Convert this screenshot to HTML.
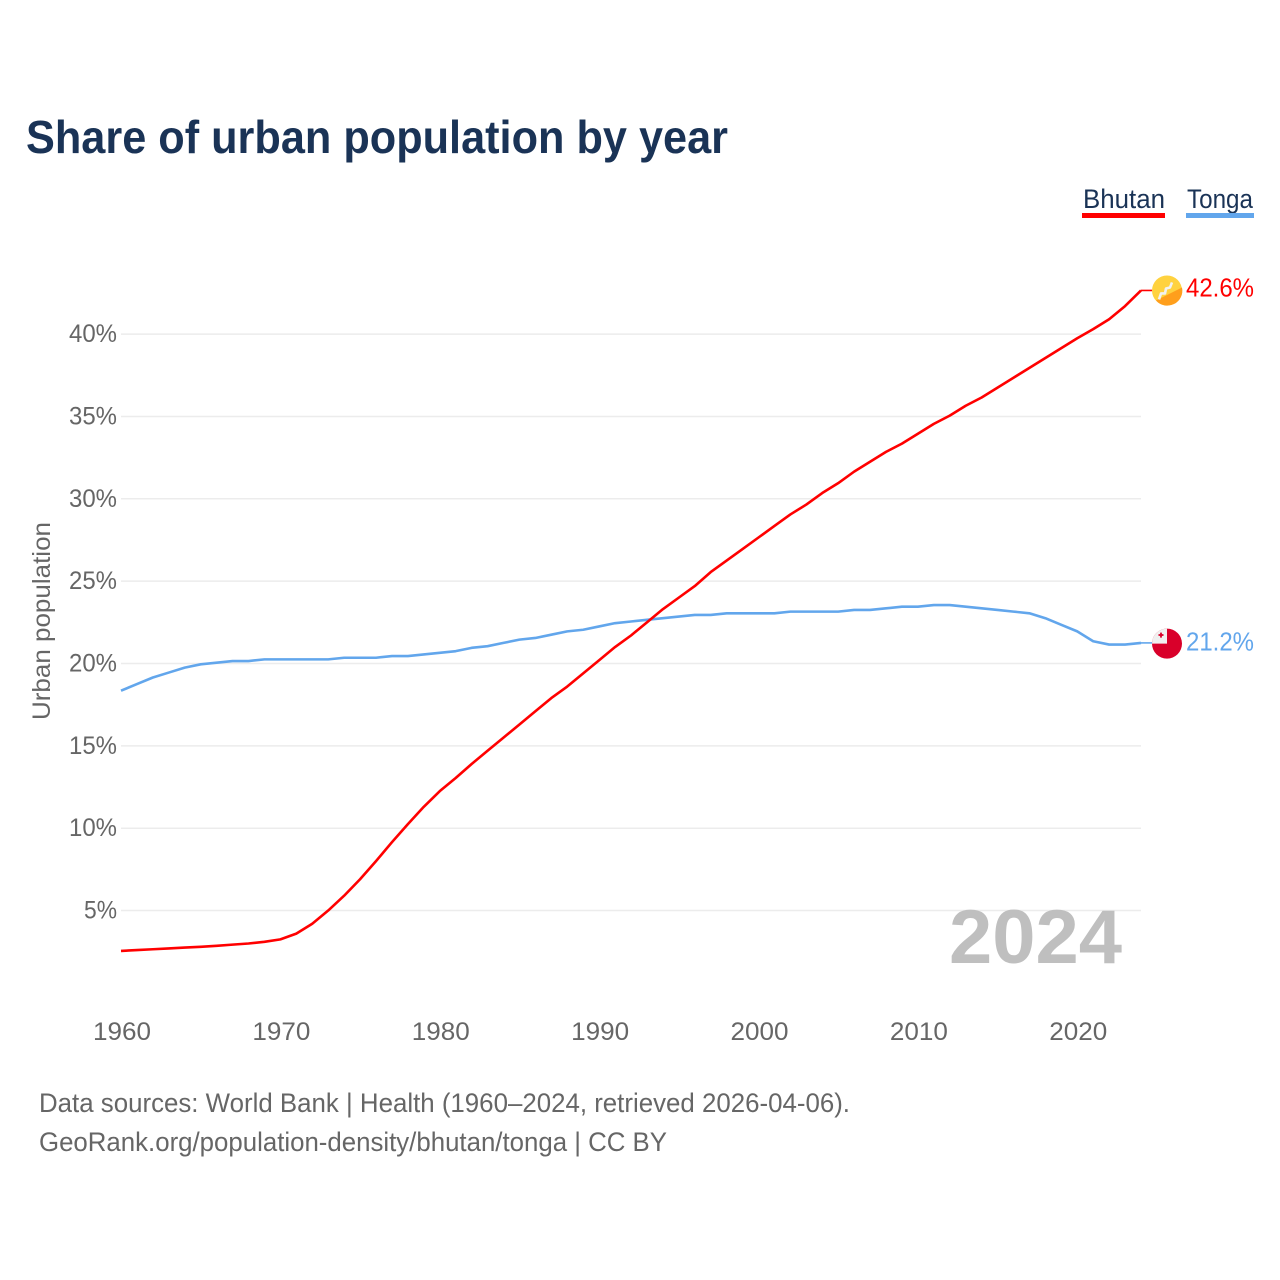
<!DOCTYPE html>
<html lang="en">
<head>
<meta charset="utf-8">
<title>Share of urban population by year</title>
<style>
html,body{margin:0;padding:0;background:#fff;}
svg{display:block;font-family:"Liberation Sans",Arial,sans-serif;}
</style>
</head>
<body>
<svg id="chart" xmlns="http://www.w3.org/2000/svg" width="1280" height="1280" viewBox="0 0 1280 1280">
  <rect width="1280" height="1280" fill="#ffffff"/>
  <text x="26" y="153" font-size="46" font-weight="700" fill="#1a3356" textLength="702" lengthAdjust="spacingAndGlyphs">Share of urban population by year</text>

  <g>
    <text x="1083" y="208" font-size="27" fill="#1a3356" textLength="82" lengthAdjust="spacingAndGlyphs">Bhutan</text>
    <rect x="1082" y="213" width="83" height="5" fill="#ff0000"/>
  </g>
  <g>
    <text x="1187" y="208" font-size="27" fill="#1a3356" textLength="66" lengthAdjust="spacingAndGlyphs">Tonga</text>
    <rect x="1186" y="213" width="68" height="5" fill="#62a6ec"/>
  </g>

  <g id="grid"></g>
  <g id="yticks"></g>
  <g id="xticks"></g>

  <text transform="translate(50,621) rotate(-90)" text-anchor="middle" font-size="25" fill="#666666" textLength="198" lengthAdjust="spacingAndGlyphs">Urban population</text>

  <text x="1122" y="963" text-anchor="end" font-size="76" font-weight="700" fill="#bfbfbf" textLength="173" lengthAdjust="spacingAndGlyphs">2024</text>

  <g id="series"></g>
  <g id="ends"></g>

  <text x="39" y="1112" font-size="27" fill="#666666" textLength="811" lengthAdjust="spacingAndGlyphs">Data sources: World Bank | Health (1960–2024, retrieved 2026-04-06).</text>
  <text x="39" y="1151" font-size="27" fill="#666666" textLength="628" lengthAdjust="spacingAndGlyphs">GeoRank.org/population-density/bhutan/tonga | CC BY</text>
</svg>
<script>
const years = [];
for (let y = 1960; y <= 2024; y++) years.push(y);
const bhutanValues = [2.55,2.6,2.65,2.7,2.75,2.8,2.86,2.93,3.0,3.1,3.25,3.6,4.2,5.0,5.9,6.9,8.0,9.15,10.25,11.3,12.25,13.05,13.9,14.7,15.5,16.3,17.1,17.9,18.6,19.4,20.2,21.0,21.7,22.5,23.3,24.0,24.7,25.55,26.25,26.95,27.65,28.35,29.05,29.65,30.35,30.95,31.65,32.25,32.85,33.35,33.95,34.55,35.05,35.65,36.15,36.75,37.35,37.95,38.55,39.15,39.75,40.3,40.9,41.7,42.65];
const tongaValues = [18.35,18.75,19.15,19.45,19.75,19.95,20.05,20.15,20.15,20.25,20.25,20.25,20.25,20.25,20.35,20.35,20.35,20.45,20.45,20.55,20.65,20.75,20.95,21.05,21.25,21.45,21.55,21.75,21.95,22.05,22.25,22.45,22.55,22.65,22.75,22.85,22.95,22.95,23.05,23.05,23.05,23.05,23.15,23.15,23.15,23.15,23.25,23.25,23.35,23.45,23.45,23.55,23.55,23.45,23.35,23.25,23.15,23.05,22.75,22.35,21.95,21.35,21.15,21.15,21.25];
const yTickValues = [5,10,15,20,25,30,35,40];
const xTickValues = [1960,1970,1980,1990,2000,2010,2020];
const bhutanEndLabel = "42.6%";
const tongaEndLabel = "21.2%";

const NS = "http://www.w3.org/2000/svg";
function xScale(year){ return 121 + (year - 1960) * (1141 - 121) / 64; }
function yScale(v){ return 992.9 - v * 16.47; }
function make(tag, attrs, parent){
  const el = document.createElementNS(NS, tag);
  for (const k in attrs) el.setAttribute(k, attrs[k]);
  parent.appendChild(el);
  return el;
}

const grid = document.getElementById('grid');
const yticks = document.getElementById('yticks');
const xticks = document.getElementById('xticks');
const seriesG = document.getElementById('series');
const ends = document.getElementById('ends');

yTickValues.forEach(function(v){
  const line = make('line', {x1:121, x2:1141, y1:yScale(v), y2:yScale(v), stroke:'#ececec', 'stroke-width':1.5}, grid);
  
  
  const t = make('text', {x:117, y:yScale(v)+8, 'text-anchor':'end', 'font-size':25, fill:'#666666', textLength:(v < 10 ? 33 : 48), lengthAdjust:'spacingAndGlyphs'}, yticks);
  
  
  t.textContent = v + '%';
});

xTickValues.forEach(function(v){
  const t = make('text', {x:xScale(v)+1, y:1040, 'text-anchor':'middle', 'font-size':25, fill:'#666666', textLength:58, lengthAdjust:'spacingAndGlyphs'}, xticks);
  
  
  t.textContent = v;
});

function pathFor(values){
  return values.map(function(v,i){
    return (i ? 'L' : 'M') + xScale(years[i]).toFixed(2) + ' ' + yScale(v).toFixed(2);
  }).join(' ');
}

const tongaPath = make('path', {d:pathFor(tongaValues), fill:'none', stroke:'#62a6ec', 'stroke-width':2.6, 'stroke-linejoin':'round'}, seriesG);


const bhutanPath = make('path', {d:pathFor(bhutanValues), fill:'none', stroke:'#ff0000', 'stroke-width':2.6, 'stroke-linejoin':'round'}, seriesG);



/* end connectors, flags, value labels */
const bY = yScale(bhutanValues[bhutanValues.length-1]);
const tY = yScale(tongaValues[tongaValues.length-1]);
const endX = xScale(2024);

const bConn = make('line', {x1:endX, x2:1152, y1:bY, y2:bY, stroke:'#ff0000', 'stroke-width':1.6}, ends);


const tConn = make('line', {x1:endX, x2:1152, y1:tY, y2:tY, stroke:'#62a6ec', 'stroke-width':1.6}, ends);



/* Bhutan flag */
const bFlag = make('g', {transform:'translate(1167,' + bY + ')'}, ends);


make('circle', {r:15, fill:'#ffd23f'}, bFlag);
make('path', {d:'M15 -3 A15 15 0 0 1 -11 10 Z', fill:'#ff9f1c'}, bFlag);
make('path', {d:'M-8 9 L-6 3 L-2 3 L-1 -2 L3 -3 L5 -8', fill:'none', stroke:'#f2f2f2', 'stroke-width':2.6, 'stroke-linejoin':'round'}, bFlag);

/* Tonga flag */
const tFlag = make('g', {transform:'translate(1167,' + (tY + 0.7) + ')'}, ends);


make('circle', {r:15, fill:'#d9002a'}, tFlag);
make('path', {d:'M0 -15 A15 15 0 0 0 -15 0 L0 0 Z', fill:'#f0f0f0'}, tFlag);
make('rect', {x:-8.5, y:-9.5, width:5, height:1.8, fill:'#d9002a'}, tFlag);
make('rect', {x:-6.9, y:-11, width:1.8, height:5, fill:'#d9002a'}, tFlag);

const bLabel = make('text', {x:1186, y:bY+6, 'font-size':26, fill:'#ff0000', textLength:68, lengthAdjust:'spacingAndGlyphs'}, ends);


bLabel.textContent = bhutanEndLabel;
const tLabel = make('text', {x:1186, y:tY+7.5, 'font-size':26, fill:'#62a6ec', textLength:68, lengthAdjust:'spacingAndGlyphs'}, ends);


tLabel.textContent = tongaEndLabel;
</script>
</body>
</html>
